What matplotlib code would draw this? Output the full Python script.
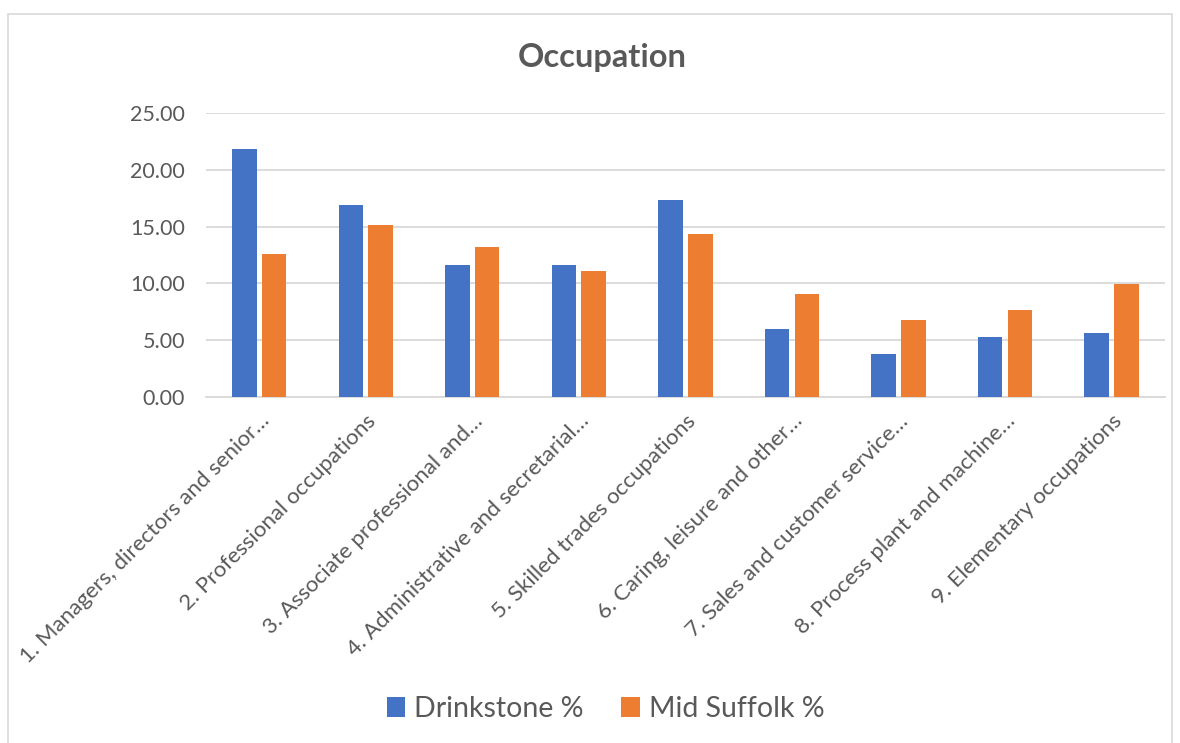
import matplotlib
matplotlib.use('Agg')
import matplotlib.pyplot as plt
import matplotlib.patches as mpatches
import numpy as np

categories = [
    '1. Managers, directors and senior\u2026',
    '2. Professional occupations',
    '3. Associate professional and\u2026',
    '4. Administrative and secretarial\u2026',
    '5. Skilled trades occupations',
    '6. Caring, leisure and other\u2026',
    '7. Sales and customer service\u2026',
    '8. Process plant and machine\u2026',
    '9. Elementary occupations',
]
drinkstone = [21.8, 16.9, 11.65, 11.65, 17.3, 6.0, 3.75, 5.25, 5.6]
mid_suffolk = [12.6, 15.15, 13.2, 11.1, 14.35, 9.05, 6.8, 7.7, 9.95]
yticks = [0, 5, 10, 15, 20, 25]

plt.rcParams['font.family'] = ['Lato', 'DejaVu Sans']
grey = '#595959'

fig = plt.figure(figsize=(11.8, 7.43), dpi=100)
# chart border
fig.patches.append(mpatches.Rectangle((8 / 1180, -0.01), 1164 / 1180, 1 - 14 / 743 + 0.01,
                                      transform=fig.transFigure, fill=False,
                                      edgecolor='#D9D9D9', linewidth=1.2))
ax = fig.add_axes([0.1746, 0.4657, 0.8124, 0.3822])

x = np.arange(len(categories))
w = 0.23
ax.bar(x - 0.14, drinkstone, w, color='#4472C4', label='Drinkstone %', zorder=3)
ax.bar(x + 0.14, mid_suffolk, w, color='#ED7D31', label='Mid Suffolk %', zorder=3)

ax.set_xlim(-0.5, len(categories) - 0.5)
ax.set_ylim(0, 25)
ax.set_yticks(yticks)
ax.set_yticklabels([f'{v:.2f}' for v in yticks], color=grey, fontsize=15.5)
ax.yaxis.grid(True, color='#D9D9D9', linewidth=1.3, zorder=0)
ax.set_xticks(x)
ax.set_xticklabels(categories, rotation=45, ha='right', rotation_mode='anchor',
                   color=grey, fontsize=16)
ax.tick_params(axis='y', length=0, pad=15)
ax.tick_params(axis='x', length=0, pad=10)
for s in ['top', 'right', 'left']:
    ax.spines[s].set_visible(False)
ax.spines['bottom'].set_color('#D9D9D9')
ax.spines['bottom'].set_linewidth(1.3)

fig.text(0.51, 1 - 58 / 743, 'Occupation', ha='center', va='center',
         fontsize=23.5, fontweight='bold', color=grey)

fig.legend(loc='center', bbox_to_anchor=(0.513, 1 - 709 / 743), ncol=2, frameon=False,
           fontsize=20.5, labelcolor=grey, handlelength=0.65, handleheight=0.75,
           handletextpad=0.3, columnspacing=1.35)

fig.savefig('out.png', dpi=100)
